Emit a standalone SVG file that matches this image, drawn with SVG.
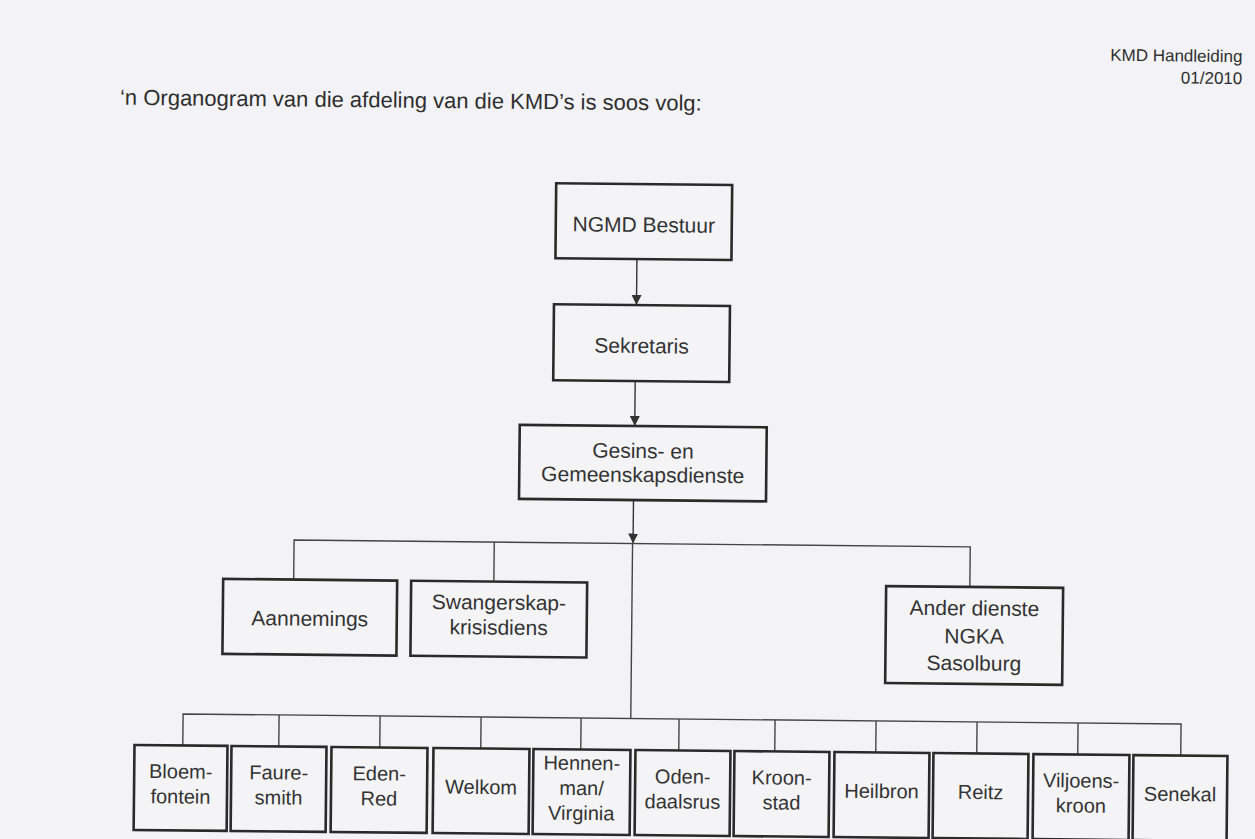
<svg xmlns="http://www.w3.org/2000/svg" width="1255" height="839" viewBox="0 0 1255 839">
<style>
.bg{fill:#f3f3f7}
.box{fill:#f4f4f7;stroke:#2a2a2a;stroke-width:2.6}
.t{font-family:"Liberation Sans",Arial,sans-serif;font-size:21px;fill:#333;text-anchor:middle}
.tb{font-family:"Liberation Sans",Arial,sans-serif;font-size:20px;fill:#333;text-anchor:middle}
.h{font-family:"Liberation Sans",Arial,sans-serif;fill:#2e2e2e}
.c{stroke:#444;stroke-width:1.4;fill:none}
.a{stroke:#333;stroke-width:1.4;fill:none;marker-end:url(#ah)}
</style>
<defs>
<marker id="ah" viewBox="0 0 10 10" refX="10" refY="5" markerWidth="10" markerHeight="10" markerUnits="userSpaceOnUse" orient="auto">
<path d="M0,0 L10,5 L0,10 z" fill="#333"/>
</marker>
</defs>
<rect class="bg" x="0" y="0" width="1255" height="839"/>
<g transform="rotate(0.58 633 500)">
<text class="h" x="1238" y="56" font-size="17" text-anchor="end">KMD Handleiding</text>
<text class="h" x="1238" y="78" font-size="17" text-anchor="end">01/2010</text>
<text class="h" x="116" y="110" font-size="22">‘n Organogram van die afdeling van die KMD’s is soos volg:</text>

<g id="connectors">
<line class="a" x1="634.5" y1="259" x2="634.5" y2="305"/>
<line class="a" x1="634" y1="381" x2="634" y2="426"/>
<line class="a" x1="633.5" y1="500" x2="633.5" y2="543.5"/>
<polyline class="c" points="294.5,583 294.5,543.5 970.7,543.5 970.7,583.5"/>
<line class="c" x1="494.7" y1="543.5" x2="494.7" y2="583"/>
<line class="c" x1="633" y1="543.5" x2="633" y2="718.5"/>
<polyline class="c" points="185.3,750 185.3,718.5 1183.3,718.5 1183.3,750"/>
<line class="c" x1="281.3" y1="718.5" x2="281.3" y2="750"/>
<line class="c" x1="382.3" y1="718.5" x2="382.3" y2="750"/>
<line class="c" x1="483.3" y1="718.5" x2="483.3" y2="750"/>
<line class="c" x1="583.3" y1="718.5" x2="583.3" y2="750"/>
<line class="c" x1="681.3" y1="718.5" x2="681.3" y2="750"/>
<line class="c" x1="777.3" y1="718.5" x2="777.3" y2="750"/>
<line class="c" x1="878.3" y1="718.5" x2="878.3" y2="750"/>
<line class="c" x1="979.3" y1="718.5" x2="979.3" y2="750"/>
<line class="c" x1="1080.3" y1="718.5" x2="1080.3" y2="750"/>
</g>

<g id="ngmd"><rect class="box" x="553" y="184" width="176" height="75"/><text class="t" x="641" y="232">NGMD Bestuur</text></g>
<g id="sekretaris"><rect class="box" x="552" y="305" width="176" height="76"/><text class="t" x="640" y="353">Sekretaris</text></g>
<g id="gesins"><rect class="box" x="519" y="426" width="247" height="74"/><text class="t" x="642.5" y="458">Gesins- en</text><text class="t" x="642.5" y="482">Gemeenskapsdienste</text></g>

<g id="aannemings"><rect class="box" x="224" y="583" width="174" height="75"/><text class="t" x="311" y="629">Aannemings</text></g>
<g id="swangerskap"><rect class="box" x="412" y="583" width="176" height="75"/><text class="t" x="500" y="611">Swangerskap-</text><text class="t" x="500" y="636">krisisdiens</text></g>
<g id="ander"><rect class="box" x="887" y="583.5" width="177" height="97"/><text class="t" x="975.5" y="612">Ander dienste</text><text class="t" x="975.5" y="640">NGKA</text><text class="t" x="975.5" y="667">Sasolburg</text></g>

<g id="bloemfontein"><rect class="box" x="137" y="750" width="93" height="85"/><text class="tb" x="183.5" y="783">Bloem-</text><text class="tb" x="183.5" y="808">fontein</text></g>
<g id="fauresmith"><rect class="box" x="234" y="750" width="95" height="85"/><text class="tb" x="281.5" y="783">Faure-</text><text class="tb" x="281.5" y="808">smith</text></g>
<g id="edenred"><rect class="box" x="334" y="750" width="96" height="85"/><text class="tb" x="382" y="783">Eden-</text><text class="tb" x="382" y="808">Red</text></g>
<g id="welkom"><rect class="box" x="436" y="750" width="96" height="85"/><text class="tb" x="484" y="795.5">Welkom</text></g>
<g id="hennenman"><rect class="box" x="536" y="750" width="97" height="85"/><text class="tb" x="584.5" y="770.5">Hennen-</text><text class="tb" x="584.5" y="795.5">man/</text><text class="tb" x="584.5" y="820.5">Virginia</text></g>
<g id="odendaalsrus"><rect class="box" x="638" y="750" width="95" height="85"/><text class="tb" x="685.5" y="783">Oden-</text><text class="tb" x="685.5" y="808">daalsrus</text></g>
<g id="kroonstad"><rect class="box" x="737" y="750" width="95" height="85"/><text class="tb" x="784.5" y="783">Kroon-</text><text class="tb" x="784.5" y="808">stad</text></g>
<g id="heilbron"><rect class="box" x="837" y="750" width="95" height="85"/><text class="tb" x="884.5" y="795.5">Heilbron</text></g>
<g id="reitz"><rect class="box" x="936" y="750" width="95" height="85"/><text class="tb" x="983.5" y="795.5">Reitz</text></g>
<g id="viljoenskroon"><rect class="box" x="1036" y="750" width="96" height="85"/><text class="tb" x="1084" y="783">Viljoens-</text><text class="tb" x="1084" y="808">kroon</text></g>
<g id="senekal"><rect class="box" x="1136" y="750" width="94" height="85"/><text class="tb" x="1183" y="795.5">Senekal</text></g>
</g>
</svg>
